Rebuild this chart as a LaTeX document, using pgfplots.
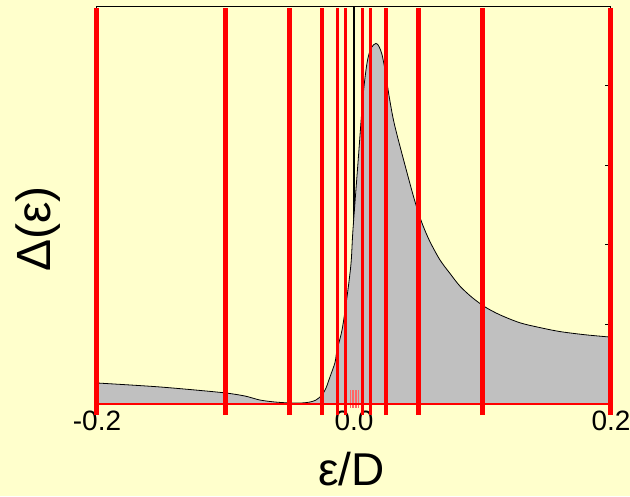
\documentclass[border=0pt]{standalone}
\usepackage{fontspec}
\setmainfont{Liberation Sans}
\usepackage{pgfplots}
\pgfplotsset{compat=1.18}
\definecolor{bgyellow}{RGB}{255,255,204}
\definecolor{fillgray}{RGB}{192,192,192}
\begin{document}
\begin{tikzpicture}
\fill[bgyellow] (-97pt,-92pt) rectangle (533pt,404pt);
\begin{axis}[
  scale only axis,
  width=514pt, height=398pt,
  xmin=-0.2, xmax=0.2, ymin=0, ymax=5,
  clip=false,
  axis on top=false,
  axis line style={black, line width=1pt},
  xtick={-0.2,0,0.2},
  xticklabels={-0.2,0.0,0.2},
  x tick style={draw=none},
  xticklabel style={font=\fontsize{28}{30}\selectfont, yshift=-3pt},
  ytick={1,2,3,4},
  yticklabels={},
  ytick pos=right,
  y tick style={black, line width=1.2pt},
  tick align=inside,
  major tick length=6pt,
  xlabel={ε/D},
  ylabel={Δ(ε)},
  xlabel style={font=\fontsize{46}{48}\selectfont, at={(axis description cs:0.495,-0.205)}, anchor=base},
  ylabel style={font=\fontsize{48}{50}\selectfont, at={(axis description cs:-0.115,0.44)}, anchor=center},
]
% zero line, under the filled curve
\addplot[black, line width=1.2pt] coordinates {(0,0) (0,5)};
% hybridisation function
\addplot[fill=fillgray, draw=black, line width=0.8pt, smooth] coordinates {
  (-0.2000,0.264) (-0.1743,0.239) (-0.1510,0.214) (-0.1237,0.176)
  (-0.0996,0.138) (-0.0848,0.100) (-0.0732,0.050) (-0.0615,0.025)
  (-0.0498,0.013) (-0.0405,0.013) (-0.0342,0.025) (-0.0296,0.050)
  (-0.0249,0.113) (-0.0218,0.200) (-0.0187,0.340) (-0.0148,0.520)
  (-0.0132,0.680) (-0.0093,0.930) (-0.0054,1.350) (-0.0023,1.770)
  (-0.0008,2.190) (0.0031,3.030) (0.0070,3.860) (0.0101,4.280)
  (0.0132,4.470) (0.0171,4.530) (0.0195,4.490) (0.0218,4.390)
  (0.0241,4.200) (0.0272,3.880) (0.0303,3.600) (0.0335,3.380)
  (0.0397,3.000) (0.0459,2.630) (0.0498,2.420) (0.0537,2.240)
  (0.0591,2.040) (0.0669,1.810) (0.0747,1.640) (0.0825,1.480)
  (0.0918,1.340) (0.1019,1.220) (0.1136,1.120) (0.1292,1.020)
  (0.1447,0.960) (0.1603,0.910) (0.1798,0.870) (0.2000,0.840)
} \closedcycle;
% logarithmic discretisation
\addplot[red, line width=5pt] coordinates {(-0.2,-0.14) (-0.2,4.98)};
\addplot[red, line width=5pt] coordinates {(-0.1,-0.14) (-0.1,4.98)};
\addplot[red, line width=5pt] coordinates {(-0.05,-0.14) (-0.05,4.98)};
\addplot[red, line width=4pt] coordinates {(-0.025,-0.14) (-0.025,4.98)};
\addplot[red, line width=3pt] coordinates {(-0.0125,-0.14) (-0.0125,4.98)};
\addplot[red, line width=3pt] coordinates {(-0.00625,-0.14) (-0.00625,4.98)};
\addplot[red, line width=3pt] coordinates {(0.00625,-0.14) (0.00625,4.98)};
\addplot[red, line width=3pt] coordinates {(0.0125,-0.14) (0.0125,4.98)};
\addplot[red, line width=4pt] coordinates {(0.025,-0.14) (0.025,4.98)};
\addplot[red, line width=5pt] coordinates {(0.05,-0.14) (0.05,4.98)};
\addplot[red, line width=5pt] coordinates {(0.1,-0.14) (0.1,4.98)};
\addplot[red, line width=5pt] coordinates {(0.2,-0.14) (0.2,4.98)};
\addplot[red!60, line width=0.8pt] coordinates {(-0.003125,-0.05) (-0.003125,0.18)};
\addplot[red!60, line width=0.8pt] coordinates {(-0.0015625,-0.05) (-0.0015625,0.18)};
\addplot[red!60, line width=0.8pt] coordinates {(-0.00078125,-0.05) (-0.00078125,0.18)};
\addplot[red!60, line width=0.8pt] coordinates {(0.00078125,-0.05) (0.00078125,0.18)};
\addplot[red!60, line width=0.8pt] coordinates {(0.0015625,-0.05) (0.0015625,0.18)};
\addplot[red!60, line width=0.8pt] coordinates {(0.003125,-0.05) (0.003125,0.18)};
\addplot[red, line width=2.5pt] coordinates {(-0.2,0) (0.2,0)};
\end{axis}
\pgfresetboundingbox
\path[use as bounding box] (-97pt,-92pt) rectangle (533pt,404pt);
\end{tikzpicture}
\end{document}
